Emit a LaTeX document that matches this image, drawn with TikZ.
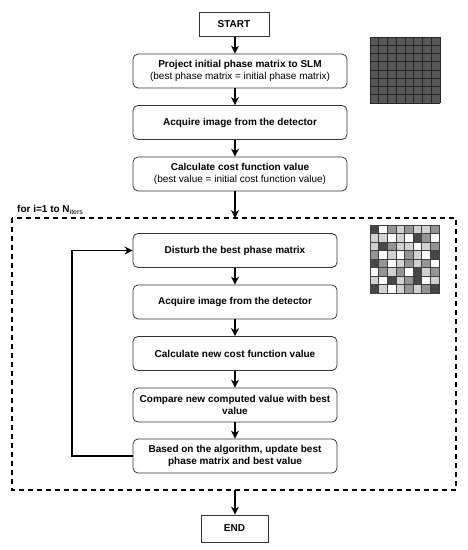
\documentclass[tikz,border=0pt]{standalone}
\usepackage{fontspec}
\setmainfont{Liberation Sans}
\usetikzlibrary{arrows.meta}
\colorlet{cell0}{white}
\colorlet{cell1}{black!18}
\colorlet{cell2}{black!42}
\colorlet{cell3}{black!72}

\begin{document}
\begin{tikzpicture}[x=1pt,y=-1pt,
	boxtext/.style={font=\fontsize{10}{12.2}\selectfont},
	stepbox/.style={boxtext,draw=black!80,line width=0.8pt,rounded corners=5pt,minimum width=214pt,minimum height=34pt,align=center,inner sep=1pt},
	loopbox/.style={stepbox,minimum width=204pt},
	termbox/.style={boxtext,draw=black!80,line width=0.8pt,minimum height=24pt,font=\fontsize{10}{12.2}\selectfont\bfseries},
	flow/.style={-{Stealth[length=8pt,width=8pt]},line width=1.1pt}]
		\useasboundingbox (0,0) rectangle (468,550);
		\coordinate (ax) at (235,0);
		\coordinate (frameTop) at (235,218);
		\coordinate (frameBot) at (235,490);
		\coordinate (back) at (72,0);
		\node[termbox,minimum width=70pt] (StartNode) at (234,24.5) {START};
		\node[stepbox] (Project) at (240,71) {\textbf{Project initial phase matrix to SLM}\\(best phase matrix = initial phase matrix)};
		\node[stepbox] (Acquire) at (240,122.5) {\textbf{Acquire image from the detector}};
		\node[stepbox] (CostInit) at (240,174) {\textbf{Calculate cost function value}\\(best value = initial cost function value)};
		\node[loopbox] (Disturb) at (235,250.5) {\textbf{Disturb the best phase matrix}};
		\node[loopbox] (AcquireNew) at (235,302) {\textbf{Acquire image from the detector}};
		\node[loopbox] (CostNew) at (235,353.5) {\textbf{Calculate new cost function value}};
		\node[loopbox] (Compare) at (235,405) {\textbf{Compare new computed value with best}\\\textbf{value}};
		\node[loopbox] (Update) at (235,456) {\textbf{Based on the algorithm, update best}\\\textbf{phase matrix and best value}};
		\node[termbox,minimum width=67pt,minimum height=27pt] (EndNode) at (234.5,528.5) {END};
		\node[boxtext,anchor=west,inner sep=0pt] (ForLabel) at (17,210) {\textbf{for i=1 to N}\textsubscript{iters}};
		\draw[line width=1.2pt,dash pattern=on 5pt off 4pt] (12,218) rectangle (456,490);
		\draw[flow] (StartNode.south -| ax) -- (Project.north -| ax);
		\draw[flow] (Project.south -| ax) -- (Acquire.north -| ax);
		\draw[flow] (Acquire.south -| ax) -- (CostInit.north -| ax);
		\draw[flow] (CostInit.south -| ax) -- (frameTop);
		\draw[flow] (Disturb) -- (AcquireNew);
		\draw[flow] (AcquireNew) -- (CostNew);
		\draw[flow] (CostNew) -- (Compare);
		\draw[flow] (Compare) -- (Update);
		\draw[flow] (frameBot) -- (EndNode.north -| ax);
		\draw[flow] (Update.west) -- (Update.west -| back) |- (Disturb.west);
		\fill[black!66] (370,37) rectangle (440,103);
		\foreach \i in {0,...,8} {
			\draw[black!85,line width=0.6pt] ({370+\i*70/8},37) -- ({370+\i*70/8},103);
			\draw[black!85,line width=0.6pt] (370,{37+\i*66/8}) -- (440,{37+\i*66/8});
		}
		\foreach \row [count=\r from 0] in {{3,0,2,1,2,1,1,2},{1,1,0,1,0,3,2,0},{1,3,2,1,1,0,1,2},{2,0,1,0,2,1,0,3},{3,2,0,1,2,1,2,0},{0,2,1,2,0,3,1,2},{1,0,3,1,2,3,0,1},{3,1,0,1,2,1,2,3}}
			\foreach \v [count=\c from 0] in \row
				\filldraw[fill=cell\v,draw=black!75,line width=0.6pt] ({370+\c*69/8},{225+\r*68/8}) rectangle ++(69/8,68/8);
\end{tikzpicture}
\end{document}
